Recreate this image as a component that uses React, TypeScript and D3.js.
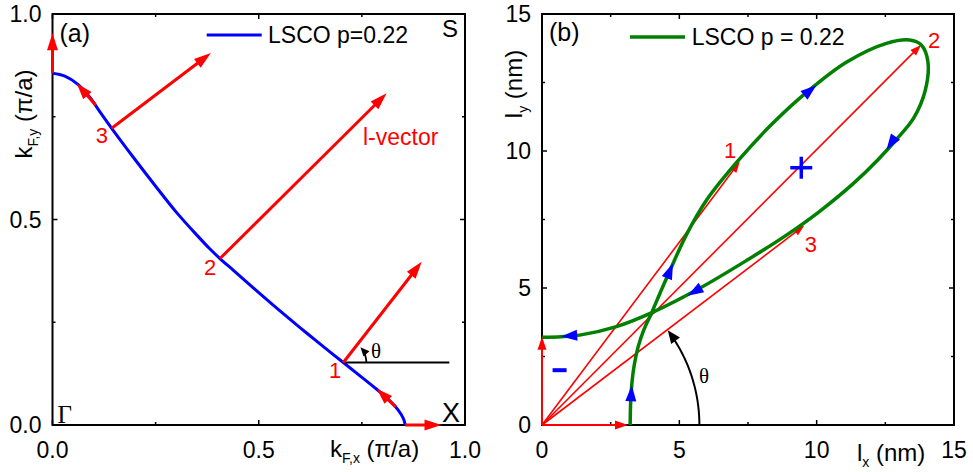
import React from "react";
import * as d3 from "d3";

// ---------- DATA ----------
// Panel (a): Fermi surface of LSCO p=0.22, (kx, ky) in units of pi/a
const fermiSurface: [number, number][] = [
  [0, 0.856], [0.03, 0.849], [0.06, 0.83], [0.09, 0.798], [0.115, 0.762],
  [0.1435, 0.722], [0.17, 0.686], [0.2, 0.646], [0.25, 0.581], [0.3, 0.518],
  [0.35, 0.462], [0.38, 0.43], [0.406, 0.405], [0.44, 0.375], [0.5, 0.322],
  [0.55, 0.279], [0.6, 0.237], [0.65, 0.196], [0.705, 0.152], [0.75, 0.116],
  [0.786, 0.087], [0.81, 0.066], [0.83, 0.046], [0.845, 0.026], [0.852, 0.012],
  [0.855, 0],
];
// l-vectors drawn at Fermi-surface points (from, to)
const aVectors: { from: [number, number]; to: [number, number] }[] = [
  { from: [0, 0.856], to: [0, 0.953] },
  { from: [0.1435, 0.722], to: [0.384, 0.905] },
  { from: [0.406, 0.405], to: [0.81, 0.807] },
  { from: [0.705, 0.152], to: [0.895, 0.397] },
  { from: [0.855, 0], to: [0.943, 0] },
];
// direction arrows on the Fermi surface
const aCurveArrows: { from: [number, number]; to: [number, number] }[] = [
  { from: [0.105, 0.778], to: [0.059, 0.831] },
  { from: [0.832, 0.044], to: [0.786, 0.088] },
];
const aPointLabels: { text: string; at: [number, number] }[] = [
  { text: "3", at: [0.105, 0.686] },
  { text: "2", at: [0.367, 0.365] },
  { text: "1", at: [0.67, 0.114] },
];
const aThetaRef: [number, number][] = [[0.705, 0.152], [0.962, 0.152]];
const aMajorTicks = [0, 0.5, 1.0];
const aMinorTicks = [0.25, 0.75];

// Panel (b): l-vector trajectory (lx, ly) in nm
const lLoop: [number, number][] = [
  [3.21, 0], [3.23, 0.9], [3.28, 1.6], [3.36, 2.2], [3.5, 2.85], [3.7, 3.45],
  [3.98, 4.07], [4.3, 4.82], [4.65, 5.62], [5.26, 6.95], [6.0, 8.22], [7.1, 9.6],
  [8.3, 10.91], [9.62, 12.13], [11.08, 13.24], [12.54, 13.93], [13.39, 14.05],
  [13.81, 13.87], [14.05, 13.26], [13.95, 12.2], [13.53, 11.2], [12.9, 10.42],
  [12.25, 9.7], [11.32, 8.8], [10.11, 7.8], [8.9, 6.93], [7.44, 6.0],
  [5.74, 4.99], [4.04, 4.12], [2.71, 3.59], [1.37, 3.28], [0.7, 3.22], [0, 3.2],
];
const bLineTips: [number, number][] = [[7.2, 9.61], [13.8, 13.87], [9.55, 7.28]];
const bAxisVectors: [number, number][] = [[3.13, 0], [0, 3.22]];
const bLoopArrows: { from: [number, number]; to: [number, number] }[] = [
  { from: [3.23, 0.8], to: [3.27, 1.45] },
  { from: [4.5, 5.25], to: [4.77, 5.9] },
  { from: [9.38, 11.9], to: [9.99, 12.4] },
  { from: [12.96, 10.65], to: [12.54, 10.04] },
  { from: [5.95, 5.1], to: [5.3, 4.72] },
  { from: [1.5, 3.29], to: [0.7, 3.23] },
];
const bPointLabels: { text: string; at: [number, number] }[] = [
  { text: "1", at: [6.63, 9.74] },
  { text: "2", at: [14.05, 13.76] },
  { text: "3", at: [9.57, 6.31] },
];
const bPlus: [number, number] = [9.44, 9.39];
const bMinus: [number, number] = [0.64, 2.0];
const bThetaRadius = 5.73;
const bMajorTicks = [0, 5, 10, 15];
const bMinorTicks = [2.5, 7.5, 12.5];

// ---------- LAYOUT ----------
const W = 973;
const H = 472;
const boxA = { l: 52.5, r: 465, t: 14, b: 425 };
const boxB = { l: 542, r: 954, t: 14, b: 425 };
const SANS = "'Liberation Sans', Arial, Helvetica, sans-serif";
const SERIF = "'Liberation Serif', 'Times New Roman', serif";
const RED = "#ff0000";
const BLUE = "#0000ff";
const GREEN = "#008000";

type Pt = [number, number];

function head(tip: Pt, fromPt: Pt, len: number, hw: number) {
  const dx = tip[0] - fromPt[0];
  const dy = tip[1] - fromPt[1];
  const n = Math.hypot(dx, dy) || 1;
  const ux = dx / n, uy = dy / n;
  const bx = tip[0] - ux * len, by = tip[1] - uy * len;
  const px = -uy, py = ux;
  return {
    d: `M${tip[0]},${tip[1]}L${bx + px * hw},${by + py * hw}L${bx - px * hw},${by - py * hw}Z`,
    base: [tip[0] - ux * len * 0.7, tip[1] - uy * len * 0.7] as Pt,
  };
}

function Arrow({ from, to, color, width, len, hw }: { from: Pt; to: Pt; color: string; width: number; len: number; hw: number }) {
  const h = head(to, from, len, hw);
  return (
    <g>
      <line x1={from[0]} y1={from[1]} x2={h.base[0]} y2={h.base[1]} stroke={color} strokeWidth={width} />
      <path d={h.d} fill={color} />
    </g>
  );
}

function Frame({ box, x, y, major, minor, fmt }: any) {
  const tickMaj = 5, tickMin = 3;
  const els: any[] = [];
  major.forEach((v: number, i: number) => {
    const px = x(v), py = y(v);
    els.push(<line key={"bx" + i} x1={px} x2={px} y1={box.b} y2={box.b - tickMaj} />);
    els.push(<line key={"tx" + i} x1={px} x2={px} y1={box.t} y2={box.t + tickMaj} />);
    els.push(<line key={"ly" + i} x1={box.l} x2={box.l + tickMaj} y1={py} y2={py} />);
    els.push(<line key={"ry" + i} x1={box.r} x2={box.r - tickMaj} y1={py} y2={py} />);
  });
  minor.forEach((v: number, i: number) => {
    const px = x(v), py = y(v);
    els.push(<line key={"mbx" + i} x1={px} x2={px} y1={box.b} y2={box.b - tickMin} />);
    els.push(<line key={"mtx" + i} x1={px} x2={px} y1={box.t} y2={box.t + tickMin} />);
    els.push(<line key={"mly" + i} x1={box.l} x2={box.l + tickMin} y1={py} y2={py} />);
    els.push(<line key={"mry" + i} x1={box.r} x2={box.r - tickMin} y1={py} y2={py} />);
  });
  return (
    <g>
      <g stroke="#000" strokeWidth={1.5}>{els}</g>
      <rect x={box.l} y={box.t} width={box.r - box.l} height={box.b - box.t} fill="none" stroke="#000" strokeWidth={2} />
      <g fontFamily={SANS} fontSize={23} fill="#000">
        {major.map((v: number, i: number) => (
          <text key={"xl" + i} x={x(v)} y={458} textAnchor="middle">{fmt(v)}</text>
        ))}
        {major.map((v: number, i: number) => (
          <text key={"yl" + i} x={box.l - 11} y={y(v) + 8} textAnchor="end">{fmt(v)}</text>
        ))}
      </g>
    </g>
  );
}

function arcArrow(cx: number, cy: number, r: number, a0: number, a1: number, len: number, hw: number) {
  const steps = 40;
  const tip: Pt = [cx + r * Math.cos(a1), cy - r * Math.sin(a1)];
  const tang: Pt = [-Math.sin(a1), -Math.cos(a1)];
  const fromPt: Pt = [tip[0] - tang[0], tip[1] - tang[1]];
  const h = head(tip, fromPt, len, hw);
  const trimA = a1 - (len * 0.7) / r;
  const arcPts: Pt[] = d3.range(steps + 1).map((i) => {
    const a = a0 + ((trimA - a0) * i) / steps;
    return [cx + r * Math.cos(a), cy - r * Math.sin(a)] as Pt;
  });
  return { line: d3.line()(arcPts) as string, head: h.d };
}

export default function App() {
  const xa = d3.scaleLinear().domain([0, 1]).range([boxA.l, boxA.r]);
  const ya = d3.scaleLinear().domain([0, 1]).range([boxA.b, boxA.t]);
  const xb = d3.scaleLinear().domain([0, 15]).range([boxB.l, boxB.r]);
  const yb = d3.scaleLinear().domain([0, 15]).range([boxB.b, boxB.t]);

  const lineA = d3.line<Pt>().x((d) => xa(d[0])).y((d) => ya(d[1])).curve(d3.curveCatmullRom.alpha(0.5));
  const lineB = d3.line<Pt>().x((d) => xb(d[0])).y((d) => yb(d[1])).curve(d3.curveCatmullRom.alpha(0.5));

  const pA = (d: Pt): Pt => [xa(d[0]), ya(d[1])];
  const pB = (d: Pt): Pt => [xb(d[0]), yb(d[1])];

  const p1 = pA(aThetaRef[0]);
  const v1 = aVectors[3];
  const angA = Math.atan2(-(ya(v1.to[1]) - ya(v1.from[1])), xa(v1.to[0]) - xa(v1.from[0]));
  const arcA = arcArrow(p1[0], p1[1], 23, 0, angA - 0.18, 9, 4);

  const o = pB([0, 0]);
  const t3 = bLineTips[2];
  const ang3 = Math.atan2(-(yb(t3[1]) - o[1]), xb(t3[0]) - o[0]);
  const arcB = arcArrow(o[0], o[1], xb(bThetaRadius) - xb(0), 0, ang3 - 0.005, 13, 5.5);

  const plus = pB(bPlus);
  const minus = pB(bMinus);

  return (
    <svg width={W} height={H} style={{ position: "absolute", left: 0, top: 0, background: "#fff" }}>
      <rect width={W} height={H} fill="#fff" />
      {/* ===== Panel (a) ===== */}
      <Frame box={boxA} x={xa} y={ya} major={aMajorTicks} minor={aMinorTicks} fmt={d3.format(".1f")} />
      <path d={lineA(fermiSurface) as string} fill="none" stroke={BLUE} strokeWidth={3} />
      <line x1={pA(aThetaRef[0])[0]} y1={pA(aThetaRef[0])[1]} x2={pA(aThetaRef[1])[0]} y2={pA(aThetaRef[1])[1]} stroke="#000" strokeWidth={2} />
      {aVectors.map((v, i) => (
        <Arrow key={i} from={pA(v.from)} to={pA(v.to)} color={RED} width={3} len={17} hw={5.5} />
      ))}
      {aCurveArrows.map((v, i) => (
        <Arrow key={i} from={pA(v.from)} to={pA(v.to)} color={RED} width={3} len={16} hw={5.5} />
      ))}
      <path d={arcA.line} fill="none" stroke="#000" strokeWidth={1.8} />
      <path d={arcA.head} fill="#000" />
      <g fontFamily={SANS} fontSize={22} fill={RED}>
        {aPointLabels.map((l, i) => (
          <text key={i} x={xa(l.at[0])} y={ya(l.at[1])}>{l.text}</text>
        ))}
        <text x={363} y={145} fontSize={23}>l-vector</text>
      </g>
      <text x={xa(0.772)} y={ya(0.163)} fontFamily={SERIF} fontSize={21}>θ</text>
      <text x={boxA.l + 7} y={42} fontFamily={SANS} fontSize={25}>(a)</text>
      <text x={boxA.r - 23} y={37} fontFamily={SANS} fontSize={24}>S</text>
      <text x={boxA.l + 5} y={boxA.b - 2} fontFamily={SERIF} fontSize={25}>Γ</text>
      <text x={boxA.r - 23} y={boxA.b - 3} fontFamily={SANS} fontSize={27}>X</text>
      <line x1={206.7} x2={261.7} y1={35} y2={35} stroke={BLUE} strokeWidth={3} />
      <text x={268} y={43} fontFamily={SANS} fontSize={23}>LSCO p=0.22</text>
      <text x={330} y={457} fontFamily={SANS} fontSize={24}>
        k<tspan fontSize={14} dy={6}>F,x</tspan><tspan dy={-6}> (π/a)</tspan>
      </text>
      <text transform="translate(32,114) rotate(-90)" textAnchor="middle" fontFamily={SANS} fontSize={24}>
        k<tspan fontSize={14} dy={6}>F,y</tspan><tspan dy={-6}> (π/a)</tspan>
      </text>

      {/* ===== Panel (b) ===== */}
      <Frame box={boxB} x={xb} y={yb} major={bMajorTicks} minor={bMinorTicks} fmt={d3.format("d")} />
      {bLineTips.map((t, i) => (
        <Arrow key={i} from={o} to={pB(t)} color={RED} width={1.6} len={11} hw={4} />
      ))}
      <path d={lineB(lLoop) as string} fill="none" stroke={GREEN} strokeWidth={3.5} />
      {bAxisVectors.map((t, i) => (
        <Arrow key={i} from={o} to={pB(t)} color={RED} width={2} len={13} hw={4.5} />
      ))}
      {bLoopArrows.map((a, i) => (
        <path key={i} d={head(pB(a.to), pB(a.from), 16, 5.5).d} fill={BLUE} />
      ))}
      <path d={arcB.line} fill="none" stroke="#000" strokeWidth={2} />
      <path d={arcB.head} fill="#000" />
      <g stroke={BLUE} strokeWidth={3.5}>
        <line x1={plus[0] - 11} x2={plus[0] + 11} y1={plus[1]} y2={plus[1]} />
        <line x1={plus[0]} x2={plus[0]} y1={plus[1] - 11} y2={plus[1] + 11} />
        <line x1={minus[0] - 7} x2={minus[0] + 7} y1={minus[1]} y2={minus[1]} strokeWidth={4} />
      </g>
      <g fontFamily={SANS} fontSize={22} fill={RED}>
        {bPointLabels.map((l, i) => (
          <text key={i} x={xb(l.at[0])} y={yb(l.at[1])}>{l.text}</text>
        ))}
      </g>
      <text x={xb(5.72)} y={yb(1.53)} fontFamily={SERIF} fontSize={21}>θ</text>
      <text x={boxB.l + 7} y={41} fontFamily={SANS} fontSize={25}>(b)</text>
      <line x1={630} x2={685} y1={37} y2={37} stroke={GREEN} strokeWidth={3.5} />
      <text x={691.7} y={45} fontFamily={SANS} fontSize={23}>LSCO p = 0.22</text>
      <text x={857} y={461} fontFamily={SANS} fontSize={24}>
        l<tspan fontSize={14} dy={6}>x</tspan><tspan dy={-6}> (nm)</tspan>
      </text>
      <text transform="translate(522,84) rotate(-90)" textAnchor="middle" fontFamily={SANS} fontSize={24}>
        l<tspan fontSize={14} dy={6}>y</tspan><tspan dy={-6}> (nm)</tspan>
      </text>
    </svg>
  );
}
